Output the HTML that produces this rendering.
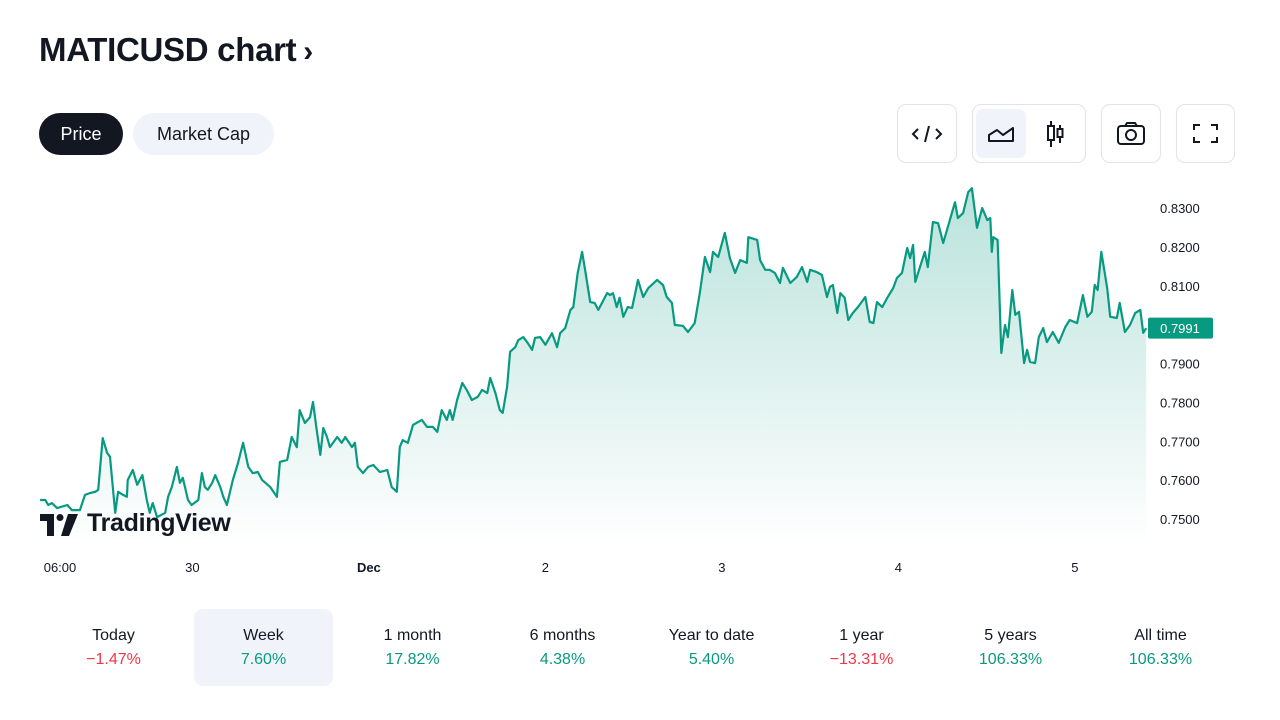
<!DOCTYPE html>
<html><head><meta charset="utf-8">
<style>
body{margin:0;width:1280px;height:720px;background:#fff;font-family:"Liberation Sans",sans-serif;color:#131722;position:relative;overflow:hidden}
.abs{position:absolute}
.title{left:39px;top:31px;font-size:33px;font-weight:bold;letter-spacing:-0.3px}
.pill{top:113px;height:42px;border-radius:21px;font-size:18px;line-height:42px;text-align:center}
.ib{top:104px;height:59px;border:1px solid #e0e3eb;border-radius:9px;box-sizing:border-box}
.tab{top:609px;width:139px;height:77px;border-radius:9px;text-align:center}
.tab .l{position:absolute;top:18px;width:100%;font-size:16px;color:#131722}
.tab .v{position:absolute;top:42px;width:100%;font-size:16px}
.g{color:#089981}.r{color:#f23645}
</style></head><body>
<div class="abs title">MATICUSD chart <span style="font-size:30px;margin-left:-2px">›</span></div>
<div class="abs pill" style="left:39px;width:84px;background:#131722;color:#fff">Price</div>
<div class="abs pill" style="left:133px;width:141px;background:#f0f3fa">Market Cap</div>

<div class="abs ib" style="left:897px;width:60px">
<svg width="58" height="57"><path d="M20 24l-5 5 5 5M38 24l5 5-5 5M31 21l-4 16" stroke="#131722" stroke-width="2" fill="none"/></svg></div>
<div class="abs ib" style="left:972px;width:114px">
<div class="abs" style="left:3px;top:4px;width:50px;height:49px;background:#f0f3fa;border-radius:7px">
<svg width="50" height="49"><path d="M13 32v-6l8-5 6 5 10-7v13z" stroke="#131722" stroke-width="2" fill="none" stroke-linejoin="round"/></svg></div>
<div class="abs" style="left:58px;top:4px;width:50px;height:49px">
<svg width="50" height="49"><path d="M20 12v26M29 16v18" stroke="#131722" stroke-width="2"/><rect x="17" y="17" width="6" height="14" fill="#fff" stroke="#131722" stroke-width="2"/><rect x="26.5" y="20" width="5" height="8" fill="#fff" stroke="#131722" stroke-width="2"/></svg></div>
</div>
<div class="abs ib" style="left:1101px;width:60px">
<svg width="58" height="57"><rect x="16" y="21" width="26" height="18" rx="3" stroke="#131722" stroke-width="2" fill="none"/><path d="M23 21l2-3h8l2 3" stroke="#131722" stroke-width="2" fill="none"/><circle cx="29" cy="30" r="5" stroke="#131722" stroke-width="2" fill="none"/></svg></div>
<div class="abs ib" style="left:1176px;width:59px">
<svg width="57" height="57"><path d="M17 25v-5h6M34 20h6v5M40 32v5h-6M23 37h-6v-5" stroke="#131722" stroke-width="2" fill="none"/></svg></div>

<svg class="abs" style="left:0;top:0" width="1280" height="600" id="chart">
<defs><linearGradient id="fg" x1="0" y1="0" x2="0" y2="1"><stop offset="0" stop-color="#089981" stop-opacity="0.28"/><stop offset="1" stop-color="#089981" stop-opacity="0"/></linearGradient></defs>
<g id="plot"></g><g id="axes"></g>
<g>
<path d="M40 514h14v22h-7v-15h-7z" fill="#131722"/><circle cx="60" cy="517.5" r="3.5" fill="#131722"/><path d="M68 514h10l-9 22h-8z" fill="#131722"/>
<text x="87" y="531" font-size="25" font-weight="bold" fill="#131722" font-family="Liberation Sans" letter-spacing="-0.3">TradingView</text></g>
</svg>

<div class="abs tab" style="left:44px"><div class="l">Today</div><div class="v r">−1.47%</div></div>
<div class="abs tab" style="left:194px;background:#f0f3fa"><div class="l">Week</div><div class="v g">7.60%</div></div>
<div class="abs tab" style="left:343px"><div class="l">1 month</div><div class="v g">17.82%</div></div>
<div class="abs tab" style="left:493px"><div class="l">6 months</div><div class="v g">4.38%</div></div>
<div class="abs tab" style="left:642px"><div class="l">Year to date</div><div class="v g">5.40%</div></div>
<div class="abs tab" style="left:792px"><div class="l">1 year</div><div class="v r">−13.31%</div></div>
<div class="abs tab" style="left:941px"><div class="l">5 years</div><div class="v g">106.33%</div></div>
<div class="abs tab" style="left:1091px"><div class="l">All time</div><div class="v g">106.33%</div></div>

<script>
// hours since Nov 29 06:00
const hours=[-2.7,-2.0,-1.6,-1.1,-0.4,1.0,1.6,2.7,3.4,4.1,4.8,5.2,5.8,6.4,6.8,7.5,7.9,8.6,9.1,9.2,9.9,10.5,11.2,11.8,12.2,12.6,13.2,14.3,14.7,15.2,15.9,16.3,16.7,17.4,17.9,18.8,19.3,19.7,20.1,20.7,21.1,21.8,22.2,22.7,23.5,24.2,24.9,25.6,26.2,26.9,27.5,28.6,29.5,29.9,30.9,31.5,32.2,32.6,33.3,34.0,34.4,34.9,35.4,35.8,36.3,36.7,37.7,38.3,38.8,39.7,40.1,40.5,41.2,41.9,42.6,43.5,44.5,45.1,45.8,46.2,46.6,47.3,48.0,49.2,49.9,50.7,51.3,51.9,52.6,53.0,53.4,54.0,54.7,55.3,56.0,56.8,57.4,58.1,58.5,59.2,59.8,60.2,60.8,61.2,61.9,62.3,63.0,63.6,64.2,64.6,65.3,66.0,66.9,67.6,68.0,68.7,69.4,69.8,70.4,71.0,71.4,72.1,72.7,73.2,73.7,74.4,74.8,75.2,75.7,76.1,76.6,77.2,77.8,78.6,79.3,80.0,81.2,82.0,82.5,83.2,83.6,84.7,85.4,86.3,87.0,87.7,88.4,88.8,89.5,90.4,91.1,91.8,92.5,93.4,93.6,94.8,95.2,95.9,96.5,97.2,97.9,98.3,99.3,100.2,100.9,101.6,102.0,102.9,103.6,104.3,104.7,105.1,105.7,106.1,106.7,107.2,107.8,108.5,109.5,110.1,110.6,111.1,111.8,112.5,113.3,113.8,114.5,115.2,115.6,116.0,116.3,116.9,117.6,118.0,118.7,119.4,120.1,120.8,121.7,122.1,122.8,123.5,124.0,124.7,125.4,126.1,126.5,126.7,126.9,127.5,128.0,128.5,128.9,129.5,129.9,130.4,131.1,131.5,131.9,132.6,133.1,133.7,134.2,135.0,135.8,136.7,137.3,138.3,139.1,139.7,140.3,140.7,141.1,141.6,142.4,142.8,143.7,144.1,144.8,145.5,146.2,146.9,147.3,147.7];
const prices=[0.7549,0.7549,0.7536,0.7541,0.7528,0.7536,0.7523,0.7523,0.7562,0.7567,0.7570,0.7575,0.7708,0.7670,0.7660,0.7516,0.7570,0.7562,0.7557,0.7600,0.7626,0.7588,0.7613,0.7549,0.7516,0.7541,0.7505,0.7516,0.7557,0.7582,0.7634,0.7593,0.7606,0.7549,0.7536,0.7549,0.7618,0.7582,0.7575,0.7593,0.7613,0.7582,0.7557,0.7536,0.7600,0.7644,0.7696,0.7634,0.7618,0.7621,0.7600,0.7582,0.7557,0.7647,0.7652,0.7711,0.7685,0.7780,0.7747,0.7762,0.7801,0.7729,0.7665,0.7734,0.7711,0.7685,0.7711,0.7696,0.7711,0.7685,0.7696,0.7634,0.7618,0.7634,0.7639,0.7621,0.7626,0.7582,0.7570,0.7685,0.7703,0.7696,0.7742,0.7755,0.7737,0.7737,0.7724,0.7780,0.7755,0.7780,0.7755,0.7806,0.7850,0.7832,0.7806,0.7814,0.7832,0.7824,0.7863,0.7824,0.7780,0.7773,0.7840,0.7930,0.7942,0.7960,0.7968,0.7953,0.7935,0.7966,0.7968,0.7948,0.7978,0.7942,0.7978,0.7991,0.8038,0.8045,0.8133,0.8187,0.8141,0.8058,0.8056,0.8038,0.8056,0.8081,0.8076,0.8081,0.8045,0.8069,0.8020,0.8045,0.8043,0.8115,0.8071,0.8094,0.8115,0.8102,0.8071,0.8056,0.7999,0.7997,0.7981,0.8004,0.8081,0.8174,0.8135,0.8187,0.8174,0.8236,0.8171,0.8133,0.8166,0.8159,0.8225,0.8218,0.8166,0.8141,0.8141,0.8133,0.8107,0.8146,0.8107,0.8123,0.8148,0.8110,0.8141,0.8135,0.8128,0.8071,0.8097,0.8102,0.8030,0.8081,0.8069,0.8012,0.8030,0.8045,0.8071,0.8007,0.8004,0.8058,0.8045,0.8069,0.8094,0.8120,0.8133,0.8197,0.8171,0.8205,0.8110,0.8146,0.8187,0.8148,0.8264,0.8261,0.8210,0.8256,0.8315,0.8274,0.8287,0.8341,0.8351,0.8249,0.8300,0.8269,0.8274,0.8187,0.8225,0.8218,0.7927,0.7999,0.7968,0.8089,0.8025,0.8033,0.7901,0.7935,0.7904,0.7901,0.7968,0.7991,0.7955,0.7981,0.7953,0.7994,0.8012,0.8004,0.8076,0.8020,0.8033,0.8102,0.8089,0.8187,0.8094,0.8020,0.8017,0.8056,0.7981,0.7999,0.8030,0.8038,0.7979,0.7991];
const yTicks=[0.83,0.82,0.81,0.80,0.79,0.78,0.77,0.76,0.75];
const xTickHours=[0,18,42,66,90,114,138];
const xTickLabels=["06:00","30","Dec","2","3","4","5"];
const lastPrice=0.7991;

const NS="http://www.w3.org/2000/svg";
const xs=h=>60+h*7.354;
const ys=v=>208+(0.83-v)*3887.5;
const plot=document.getElementById('plot'),axes=document.getElementById('axes');
let d=hours.map((h,i)=>(i?'L':'M')+xs(h).toFixed(1)+' '+ys(prices[i]).toFixed(1)).join('');
const area=document.createElementNS(NS,'path');
area.setAttribute('d',d+'L'+xs(hours[hours.length-1]).toFixed(1)+' 546L'+xs(hours[0]).toFixed(1)+' 546Z');
area.setAttribute('fill','url(#fg)');


plot.appendChild(area);
const line=document.createElementNS(NS,'path');
line.setAttribute('d',d);line.setAttribute('fill','none');line.setAttribute('stroke','#089981');line.setAttribute('stroke-width','2.2');line.setAttribute('stroke-linejoin','round');


plot.appendChild(line);
yTicks.forEach(v=>{const t=document.createElementNS(NS,'text');t.setAttribute('x',1160);t.setAttribute('y',ys(v)+5);t.setAttribute('font-size','13');t.setAttribute('fill','#131722');t.textContent=v.toFixed(4);


axes.appendChild(t);});
xTickHours.forEach((h,i)=>{const t=document.createElementNS(NS,'text');t.setAttribute('x',xs(h));t.setAttribute('y',572);t.setAttribute('font-size','13');t.setAttribute('text-anchor','middle');t.setAttribute('fill','#131722');if(xTickLabels[i]==='Dec')t.setAttribute('font-weight','bold');t.textContent=xTickLabels[i];


axes.appendChild(t);});
const g=document.createElementNS(NS,'g');


const ly=ys(lastPrice);
g.innerHTML='<rect x="1148" y="'+(ly-10.5)+'" width="65" height="21" rx="2" fill="#089981"/><text x="1180" y="'+(ly+5)+'" font-size="13" text-anchor="middle" fill="#fff">'+lastPrice.toFixed(4)+'</text>';
axes.appendChild(g);
</script>
</body></html>
